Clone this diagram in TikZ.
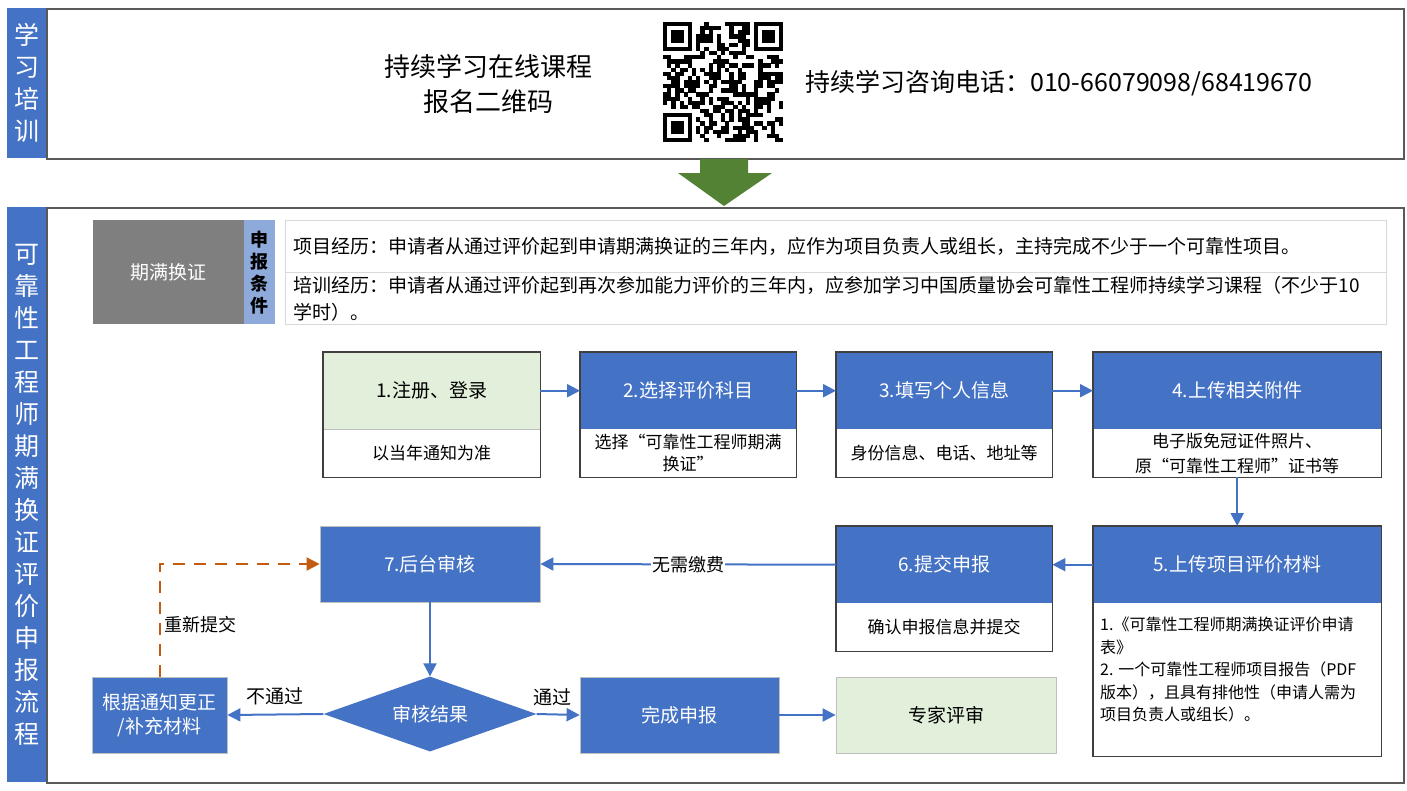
\documentclass[tikz,border=0pt]{standalone}
\usepackage{fontspec}
\setmainfont{Noto Sans CJK SC}
\usetikzlibrary{arrows.meta,shapes.geometric}
\definecolor{mblue}{HTML}{4472C4}
\definecolor{lgreen}{HTML}{E2EFDA}
\definecolor{mgray}{HTML}{7F7F7F}
\definecolor{lblue}{HTML}{8EAADB}
\definecolor{morange}{HTML}{C55A11}
\definecolor{dgreen}{HTML}{548235}
\definecolor{frameg}{HTML}{595959}
\definecolor{boxb}{HTML}{404040}
\definecolor{lightb}{HTML}{BFBFBF}
\definecolor{tableb}{HTML}{D9D9D9}
\newcommand{\myfont}[2]{\fontsize{#1}{#2}\selectfont}
\begin{document}
\begin{tikzpicture}[x=1pt,y=-1pt,
  bigframe/.style={anchor=north west, draw=frameg, line width=2pt, fill=white, inner sep=0pt},
  sidestrip/.style={anchor=north west, fill=mblue, inner sep=0pt},
  sidetext/.style={text=white, align=center, font=\myfont{25}{32}, inner sep=0pt},
  hdr/.style={anchor=north west, inner sep=0pt, fill=mblue, text=white, font=\myfont{19}{23}},
  bodyb/.style={anchor=north west, inner sep=0pt, fill=white, text=black, align=center, font=\myfont{17}{24}},
  stepframe/.style={draw=boxb, line width=1.5pt},
  flatbox/.style={inner sep=0pt, fill=mblue, text=white, draw=lightb, line width=0.8pt, font=\myfont{19}{24}, align=center},
  arr/.style={draw=mblue, line width=2pt, -{Triangle[length=13pt,width=13pt]}},
  dasharr/.style={draw=morange, line width=2pt, dash pattern=on 12pt off 9pt, -{Triangle[length=13pt,width=13pt]}},
  lbl/.style={font=\myfont{18}{22}, text=black, inner sep=1pt},
  condrow/.style={anchor=north west, draw=tableb, line width=1pt, fill=white, minimum width=1101pt, minimum height=52pt, text width=1085pt, align=left, inner xsep=8pt, inner ysep=0pt, font=\myfont{19}{27}}
]
\useasboundingbox (0,0) rectangle (1407,790);
\fill[white] (0,0) rectangle (1407,790);

% ---------- top section ----------
\node[sidestrip, minimum width=39pt, minimum height=150pt] (ts) at (7,8) {};
\node[sidetext] (tst) at (ts.center) {学\\习\\培\\训};
\node[bigframe, minimum width=1357pt, minimum height=150pt] (tb) at (46,8) {};
\node[align=center, font=\myfont{26}{35}, inner sep=0pt] (tt1) at (488,84) {持续学习在线课程\\报名二维码};
\node[anchor=west, font=\myfont{25}{30}, inner sep=0pt] (tt2) at (805,83) {持续学习咨询电话：010-66079098/68419670};

% QR code (decorative pattern)
\def\qx{663}\def\qy{22}\def\qm{4.14}
\pgfmathsetseed{20231}
\foreach \i in {0,...,28}{
  \foreach \j in {0,...,28}{
    \pgfmathtruncatemacro\inf{((\i<8)&&(\j<8))||((\i>20)&&(\j<8))||((\i<8)&&(\j>20))}
    \pgfmathtruncatemacro\v{rnd<0.5}
    \ifnum\inf=0
      \ifnum\v=1
        \fill[black] (\qx+\i*\qm,\qy+\j*\qm) rectangle ++(\qm+0.15,\qm+0.15);
      \fi
    \fi
  }
}
\foreach \a/\b in {0/0,22/0,0/22}{
  \fill[black] (\qx+\a*\qm,\qy+\b*\qm) rectangle ++(7*\qm,7*\qm);
  \fill[white] (\qx+\a*\qm+\qm,\qy+\b*\qm+\qm) rectangle ++(5*\qm,5*\qm);
  \fill[black] (\qx+\a*\qm+2*\qm,\qy+\b*\qm+2*\qm) rectangle ++(3*\qm,3*\qm);
}

% ---------- main section ----------
\node[sidestrip, minimum width=39pt, minimum height=575pt] (ms) at (7,207) {};
\node[sidetext] (mst) at (ms.center) {可\\靠\\性\\工\\程\\师\\期\\满\\换\\证\\评\\价\\申\\报\\流\\程};
\node[bigframe, minimum width=1357pt, minimum height=575pt] (mb) at (46,207) {};

% green arrow between sections
\fill[dgreen] (700,159) -- (748,159) -- (748,173) -- (772,173) -- (724,206) -- (678,173) -- (700,173) -- cycle;

% conditions
\node[anchor=north west, fill=mgray, minimum width=151pt, minimum height=104pt, inner sep=0pt, text=white, font=\myfont{19}{23}] (qm) at (93,220) {期满换证};
\node[anchor=north west, fill=lblue, minimum width=31pt, minimum height=104pt, inner sep=0pt] (sb) at (244,220) {};
\node[align=center, font=\bfseries\myfont{18}{22}, inner sep=0pt] (sbt) at (sb.center) {申\\报\\条\\件};
\node[condrow] (c1) at (285,220) {项目经历：申请者从通过评价起到申请期满换证的三年内，应作为项目负责人或组长，主持完成不少于一个可靠性项目。};
\node[condrow] (c2) at (285,272) {培训经历：申请者从通过评价起到再次参加能力评价的三年内，应参加学习中国质量协会可靠性工程师持续学习课程（不少于10\\学时）。};

% step 1
\node[hdr, fill=lgreen, text=black, minimum width=217pt, minimum height=77pt] (s1h) at (323,352) {1.注册、登录};
\node[bodyb, minimum width=217pt, minimum height=48pt] (s1b) at (323,429) {以当年通知为准};
\draw[lightb, line width=0.8pt] (s1h.south west) -- (s1h.south east);
\draw[stepframe] (s1h.north west) rectangle (s1b.south east);
% step 2
\node[hdr, minimum width=216pt, minimum height=77pt] (s2h) at (580,352) {2.选择评价科目};
\node[bodyb, minimum width=216pt, minimum height=48pt, font=\myfont{17}{22}] (s2b) at (580,429) {选择“可靠性工程师期满\\换证”};
\draw[stepframe] (s2h.north west) rectangle (s2b.south east);
% step 3
\node[hdr, minimum width=216pt, minimum height=77pt] (s3h) at (836,352) {3.填写个人信息};
\node[bodyb, minimum width=216pt, minimum height=48pt] (s3b) at (836,429) {身份信息、电话、地址等};
\draw[stepframe] (s3h.north west) rectangle (s3b.south east);
% step 4
\node[hdr, minimum width=288pt, minimum height=77pt] (s4h) at (1093,352) {4.上传相关附件};
\node[bodyb, minimum width=288pt, minimum height=48pt, font=\myfont{17}{25}] (s4b) at (1093,429) {电子版免冠证件照片、\\原“可靠性工程师”证书等};
\draw[stepframe] (s4h.north west) rectangle (s4b.south east);
% step 5
\node[hdr, minimum width=288pt, minimum height=77pt] (s5h) at (1093,526) {5.上传项目评价材料};
\node[bodyb, minimum width=288pt, minimum height=153pt] (s5b) at (1093,603) {};
\node[anchor=north west, align=left, inner sep=0pt, font=\myfont{16}{22.5}] (s5t) at (1100,617) {1.《可靠性工程师期满换证评价申请\\表》\\2. 一个可靠性工程师项目报告（PDF\\版本），且具有排他性（申请人需为\\项目负责人或组长）。};
\draw[stepframe] (s5h.north west) rectangle (s5b.south east);
% step 6
\node[hdr, minimum width=216pt, minimum height=77pt] (s6h) at (836,526) {6.提交申报};
\node[bodyb, minimum width=216pt, minimum height=48pt] (s6b) at (836,603) {确认申报信息并提交};
\draw[stepframe] (s6h.north west) rectangle (s6b.south east);
% step 7
\node[flatbox, minimum width=220pt, minimum height=76pt] (s7) at (430,564) {7.后台审核};
% decision
\node[diamond, fill=mblue, text=white, inner sep=0pt, aspect=2.84, minimum width=213pt, minimum height=75pt, font=\myfont{19}{23}] (dia) at (430,714) {审核结果};
% correction
\node[flatbox, minimum width=135pt, minimum height=76pt] (s8) at (159.5,715) {根据通知更正\\/补充材料};
% done
\node[flatbox, minimum width=199pt, minimum height=76pt] (done) at (679.5,715) {完成申报};
% expert
\node[inner sep=0pt, fill=lgreen, draw=lightb, line width=0.8pt, minimum width=220pt, minimum height=76pt, font=\myfont{19}{23}] (exp) at (946,715) {专家评审};

% connectors
\draw[arr] (s1h.east) -- (s2h.west);
\draw[arr] (s2h.east) -- (s3h.west);
\draw[arr] (s3h.east) -- (s4h.west);
\draw[arr] (s4b.south) -- (s5h.north);
\draw[arr] (s5h.west) -- (s6h.east);
\draw[arr] (s6h.west) -- node[midway, fill=white, lbl] (lb1) {无需缴费} (s7.east);
\draw[arr] (s7.south) -- (dia.north);
\draw[arr] (dia.west) -- node[midway, above=8pt, lbl, font=\myfont{19}{23}] (lb2) {不通过} (s8.east);
\draw[arr] (dia.east) -- node[midway, above=7pt, lbl, font=\myfont{19}{23}, xshift=-6pt] (lb3) {通过} (done.west);
\draw[arr] (done.east) -- (exp.west);
\draw[dasharr] (s8.north) |- node[pos=0.23, right=3pt, lbl] (lb4) {重新提交} (s7.west);
\end{tikzpicture}
\end{document}
